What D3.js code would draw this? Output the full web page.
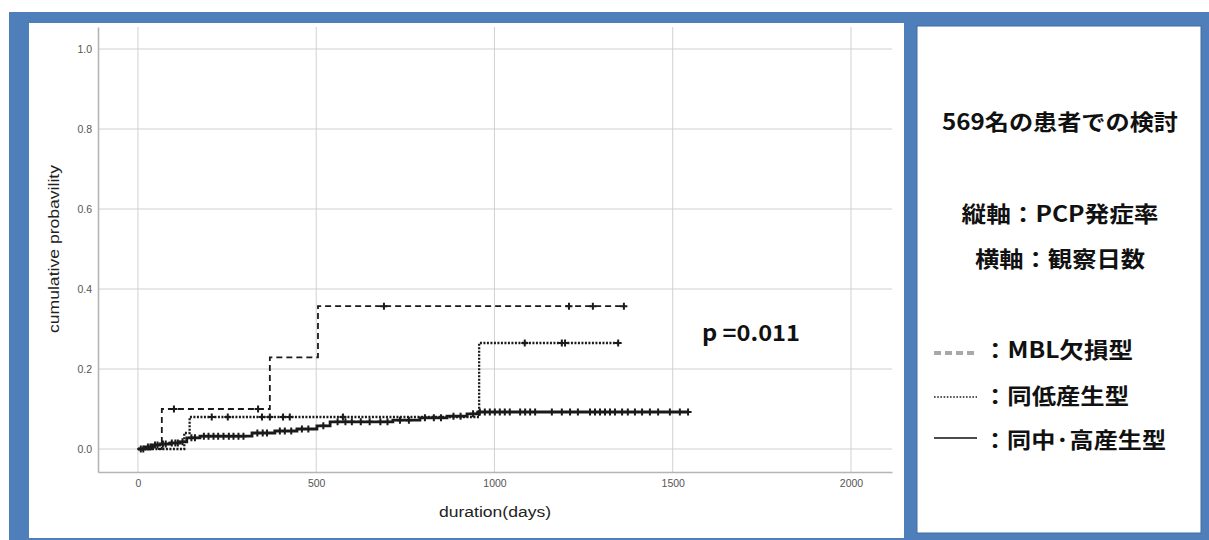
<!DOCTYPE html>
<html>
<head>
<meta charset="utf-8">
<script src="https://cdn.jsdelivr.net/npm/d3@7"></script>
<style>
  body { margin: 0; background: #fff; }
  svg { display: block; }
</style>
</head>
<body>
<svg id="chart" width="1209" height="540"></svg>
<script>
// --- data ---
var xTicks = [0, 500, 1000, 1500, 2000];
var yTicks = [0, 0.2, 0.4, 0.6, 0.8, 1.0];

// MBL deficient (dashed): [day, cumulative]
var mblSteps = [[0, 0], [67, 0.1], [370, 0.229], [505, 0.357]];
var mblEnd = 1363;
var mblCensor = [101, 337, 690, 1209, 1276, 1363];

// low producer (dotted)
var lowSteps = [[0, 0], [130, 0.04], [145, 0.08], [957, 0.265]];
var lowEnd = 1347;
var lowCensor = [207, 252, 348, 370, 407, 426, 575, 1085, 1189, 1198, 1347];

// medium / high producer (solid)
var highSteps = [
  [0, 0], [20, 0.005], [40, 0.01], [62, 0.0125], [90, 0.015], [118, 0.018],
  [137, 0.028], [174, 0.032], [320, 0.04], [384, 0.045], [446, 0.05],
  [502, 0.058], [539, 0.068], [715, 0.072], [791, 0.078], [867, 0.082],
  [923, 0.088], [954, 0.0925]
];
var highEnd = 1543;
var highCensor = [
  8, 15, 28, 35, 48, 55, 70, 78, 95, 105, 112, 125, 150, 160, 185, 198, 212,
  225, 240, 255, 268, 282, 296, 335, 350, 362, 398, 412, 430, 460, 478, 520,
  560, 582, 600, 625, 650, 680, 700, 735, 760, 805, 830, 850, 885, 905, 940,
  959, 973, 987, 1001, 1015, 1029, 1043, 1072, 1086, 1100, 1114, 1161, 1189,
  1212, 1234, 1268, 1282, 1296, 1310, 1324, 1338, 1358, 1374, 1394, 1414,
  1436, 1459, 1492, 1520, 1543
];

var svg = d3.select("#chart");

// frames
svg.append("rect").attr("x", 9).attr("y", 12).attr("width", 1200).attr("height", 528).attr("fill", "#4f7fbb");
svg.append("rect").attr("x", 29).attr("y", 23).attr("width", 875).attr("height", 515).attr("fill", "#fff");
svg.append("rect").attr("x", 917).attr("y", 26).attr("width", 284).attr("height", 507).attr("fill", "#fff")
  .attr("stroke", "#3f6da6").attr("stroke-width", 1);

// scales
var x = d3.scaleLinear().domain([-112, 2115]).range([98, 892]);
var y = d3.scaleLinear().domain([-0.0575, 1.055]).range([472, 27]);

// grid
var grid = svg.append("g").attr("class", "grid");
grid.selectAll(".vg").data(xTicks).join("line")
  .attr("x1", d => x(d)).attr("x2", d => x(d))
  .attr("y1", y.range()[1]).attr("y2", y.range()[0])
  .attr("stroke", "#d0d0d0").attr("stroke-width", 1);
grid.selectAll(".hg").data(yTicks).join("line")
  .attr("x1", x.range()[0]).attr("x2", x.range()[1])
  .attr("y1", d => y(d)).attr("y2", d => y(d))
  .attr("stroke", "#d0d0d0").attr("stroke-width", 1);

// axes
var xAxis = svg.append("g").attr("transform", "translate(0,472)")
  .call(d3.axisBottom(x).tickValues(xTicks).tickFormat(d3.format("d")).tickSize(0).tickPadding(8));
var yAxis = svg.append("g").attr("transform", "translate(98,0)")
  .call(d3.axisLeft(y).tickValues(yTicks).tickFormat(d3.format(".1f")).tickSize(0).tickPadding(6));
[xAxis, yAxis].forEach(function (a) {
  a.select(".domain").attr("stroke", "#b5b5b5").attr("stroke-width", 1.6);
  a.selectAll("text").attr("fill", "#555").style("font-family", "Liberation Sans, Arial, sans-serif").style("font-size", "10.5px");
});

// axis titles
svg.append("text")
  .attr("transform", "translate(59,249) rotate(-90)")
  .attr("text-anchor", "middle")
  .attr("textLength", 168).attr("lengthAdjust", "spacingAndGlyphs")
  .style("font-family", "Liberation Sans, Arial, sans-serif").style("font-size", "14px")
  .attr("fill", "#222")
  .text("cumulative probavility");
svg.append("text")
  .attr("x", 495).attr("y", 517)
  .attr("text-anchor", "middle")
  .attr("textLength", 112).attr("lengthAdjust", "spacingAndGlyphs")
  .style("font-family", "Liberation Sans, Arial, sans-serif").style("font-size", "14px")
  .attr("fill", "#222")
  .text("duration(days)");

// curves
function stepValue(steps, day) {
  var v = steps[0][1];
  steps.forEach(function (s) { if (s[0] <= day) v = s[1]; });
  return v;
}
var line = d3.line().x(d => x(d[0])).y(d => y(d[1])).curve(d3.curveStepAfter);
var ink = "#1a1a1a";

var series = [
  { steps: mblSteps, end: mblEnd, censor: mblCensor, dash: "6,4", width: 1.8 },
  { steps: lowSteps, end: lowEnd, censor: lowCensor, dash: "2,1.5", width: 2.3 },
  { steps: highSteps, end: highEnd, censor: highCensor, dash: null, width: 2.8 }
];

series.forEach(function (s) {
  var pts = s.steps.concat([[s.end, s.steps[s.steps.length - 1][1]]]);
  svg.append("path")
    .datum(pts)
    .attr("d", line)
    .attr("fill", "none")
    .attr("stroke", ink)
    .attr("stroke-width", s.width)
    .attr("stroke-dasharray", s.dash);
  svg.append("g").selectAll("path").data(s.censor).join("path")
    .attr("transform", d => "translate(" + x(d) + "," + y(stepValue(s.steps, d)) + ")")
    .attr("d", "M-3.5,0H3.5M0,-3.5V3.5")
    .attr("stroke", ink)
    .attr("stroke-width", 2);
});

// p value
svg.append("text")
  .attr("x", 702).attr("y", 341)
  .attr("textLength", 98).attr("lengthAdjust", "spacingAndGlyphs")
  .style("font-family", "Noto Sans CJK JP, Noto Sans, sans-serif").style("font-weight", 700).style("font-size", "22px")
  .attr("fill", "#111")
  .text("p =0.011");

// right panel
var panelFont = "Noto Sans CJK JP, sans-serif";
var headings = [
  { text: "569名の患者での検討", y: 120, len: 236 },
  { text: "縦軸：PCP発症率", y: 212, len: 197 },
  { text: "横軸：観察日数", y: 257, len: 170 }
];
svg.append("g").selectAll("text").data(headings).join("text")
  .attr("x", 1060).attr("y", d => d.y)
  .attr("text-anchor", "middle")
  .attr("dominant-baseline", "central")
  .attr("textLength", d => d.len).attr("lengthAdjust", "spacingAndGlyphs")
  .style("font-family", panelFont).style("font-weight", 700).style("font-size", "22px")
  .attr("fill", "#111")
  .text(d => d.text);

var legendRows = [
  { text: "：MBL欠損型", y: 348, len: 150, ly: 353, dash: "7,4", color: "#a8a8a8", w: 4 },
  { text: "：同低産生型", y: 394, len: 146, ly: 397, dash: "1.6,1.6", color: "#555", w: 2 },
  { text: "：同中·高産生型", y: 438, len: 183, ly: 438, dash: null, color: "#111", w: 1.6 }
];
var lg = svg.append("g");
lg.selectAll("line").data(legendRows).join("line")
  .attr("x1", 934).attr("x2", 977)
  .attr("y1", d => d.ly).attr("y2", d => d.ly)
  .attr("stroke", d => d.color).attr("stroke-width", d => d.w)
  .attr("stroke-dasharray", d => d.dash);
lg.selectAll("text").data(legendRows).join("text")
  .attr("x", 983).attr("y", d => d.y)
  .attr("dominant-baseline", "central")
  .attr("textLength", d => d.len).attr("lengthAdjust", "spacingAndGlyphs")
  .style("font-family", panelFont).style("font-weight", 700).style("font-size", "22px")
  .attr("fill", "#111")
  .text(d => d.text);
</script>
</body>
</html>
